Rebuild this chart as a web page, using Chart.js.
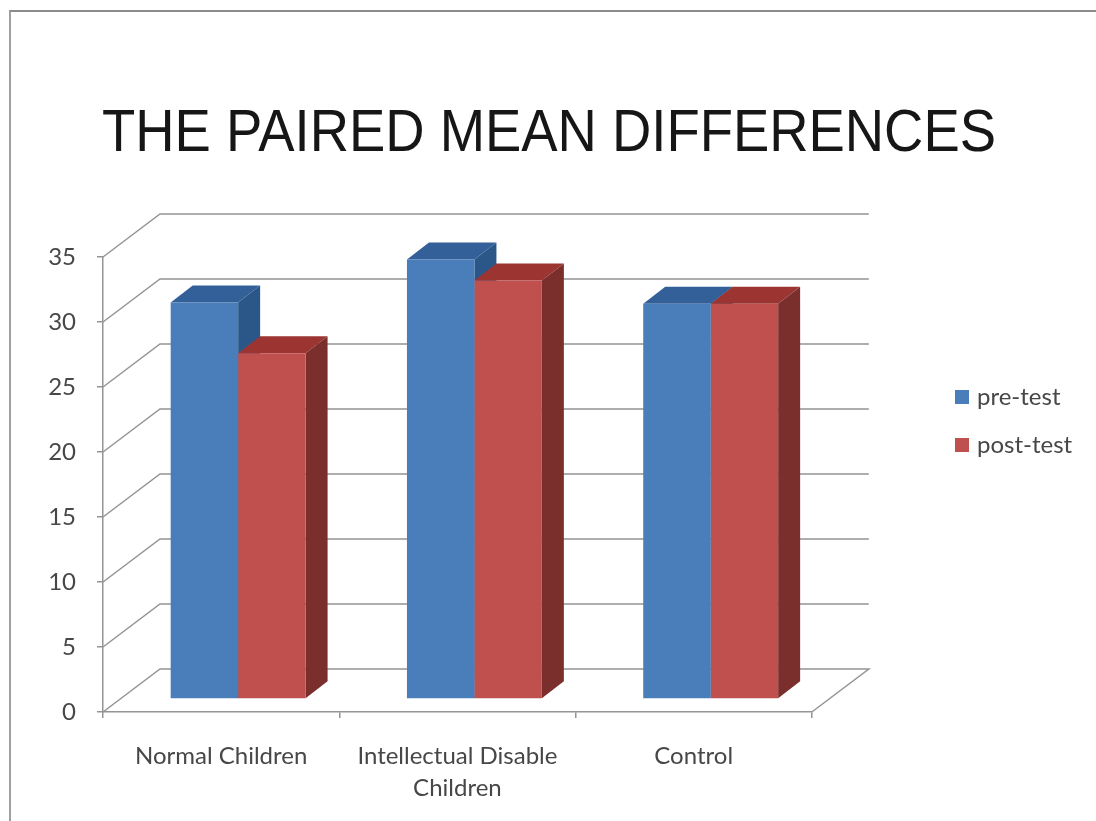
<!DOCTYPE html>
<html>
<head>
<meta charset="utf-8">
<title>The paired mean differences</title>
<script src="https://cdn.jsdelivr.net/npm/chart.js@4/dist/chart.umd.min.js"></script>
<style>
    html, body { margin: 0; padding: 0; background: #fff; overflow: hidden; }
    #wrap { position: relative; width: 1096px; height: 821px; }
    #frame { position: absolute; left: 9px; top: 10px; right: 0; bottom: 0; border-top: 2px solid #8c8c8c; border-left: 2px solid #a0a0a0; }
    canvas { position: absolute; left: 0; top: 0; }
</style>
</head>
<body>
<div id="wrap">
    <div id="frame"></div>
    <canvas id="chart" width="1096" height="821"></canvas>
</div>
<script>
const chartTitle = 'THE PAIRED MEAN DIFFERENCES';
const categories = ['Normal Children', ['Intellectual Disable', 'Children'], 'Control'];
const preTest = [30.5, 33.8, 30.4];
const postTest = [26.6, 32.2, 30.4];

// --- 3D look ---
const wall = { dx: 57, dy: 43 };      // how far the back wall sits behind the axes
const barShift = { dx: 17, dy: 13 };  // bars stand in the middle of the floor
const barDepth = { dx: 22, dy: 17 };
const gridColor = '#949494';
const textColor = '#474747';
const faces = [
    { front: '#4a7ebb', top: '#34609a', side: '#2a5788' },
    { front: '#c0504d', top: '#9c3532', side: '#7b2f2d' }
];

function poly(ctx, pts, fill) {
    ctx.beginPath();
    pts.forEach((p, i) => i ? ctx.lineTo(p[0], p[1]) : ctx.moveTo(p[0], p[1]));
    ctx.closePath();
    ctx.fillStyle = fill;
    ctx.fill();
}

const walls3d = {
    id: 'walls3d',
    // pins title and legend where they belong, the padding only reserves room
    afterLayout(chart) {
        // fillText squeezes the title to this width
        chart.titleBlock.left = 102;
        chart.titleBlock.right = 996;
        const lg = chart.legend;
        const w = lg.right - lg.left;
        lg.left = 935;
        lg.right = 935 + w;
        lg.top = 361;
        lg.bottom = 500;
    },
    beforeDatasetsDraw(chart) {
        const { ctx, chartArea: a, scales: { y } } = chart;
        ctx.save();
        ctx.strokeStyle = gridColor;
        ctx.lineWidth = 1.5;
        y.ticks.forEach(t => {
            const py = y.getPixelForValue(t.value);
            ctx.beginPath();
            ctx.moveTo(a.left, py);
            ctx.lineTo(a.left + wall.dx, py - wall.dy);
            ctx.lineTo(a.right + wall.dx, py - wall.dy);
            if (t.value === 0) ctx.lineTo(a.right, py);
            ctx.stroke();
        });

        // tops and sides go down first, pre-test then post-test, the fronts cover them afterwards
        ctx.translate(barShift.dx, -barShift.dy);
        faces.forEach((c, i) => {
            chart.getDatasetMeta(i).data.forEach(bar => {
                const l = bar.x - bar.width / 2;
                const r = bar.x + bar.width / 2;
                const d = barDepth;
                poly(ctx, [[l, bar.y], [l + d.dx, bar.y - d.dy], [r + d.dx, bar.y - d.dy], [r, bar.y]], c.top);
                poly(ctx, [[r, bar.y], [r + d.dx, bar.y - d.dy], [r + d.dx, bar.base - d.dy], [r, bar.base]], c.side);
            });
        });
        ctx.restore();
    },
    beforeDatasetDraw(chart) {
        chart.ctx.save();
        chart.ctx.translate(barShift.dx, -barShift.dy);
    },
    afterDatasetDraw(chart) {
        chart.ctx.restore();
    }
};

new Chart(document.getElementById('chart'), {
    type: 'bar',
    data: {
        labels: categories,
        datasets: [
            { label: 'pre-test', data: preTest, backgroundColor: faces[0].front, clip: false },
            { label: 'post-test', data: postTest, backgroundColor: faces[1].front, clip: false }
        ]
    },
    options: {
        responsive: false,
        animation: false,
        categoryPercentage: 0.571,
        barPercentage: 1,
        layout: { padding: { right: 137 } },
        plugins: {
            tooltip: { enabled: false },
            title: {
                display: true,
                text: chartTitle,
                color: '#161616',
                font: { family: '"Liberation Sans"', size: 60, weight: 'normal', lineHeight: 1.2 },
                padding: { top: 98, bottom: 87 }
            },
            legend: {
                position: 'right',
                align: 'start',
                labels: {
                    color: textColor,
                    font: { family: 'Lato', size: 24 },
                    usePointStyle: true,
                    pointStyle: 'rect',
                    boxWidth: 6,
                    boxHeight: 14,
                    padding: 24
                }
            }
        },
        scales: {
            x: {
                afterFit(s) { s.height = 109; },
                grid: { drawOnChartArea: false, color: gridColor, tickLength: 6, lineWidth: 1.5 },
                border: { color: gridColor, width: 1.5 },
                ticks: {
                    color: textColor,
                    font: { family: 'Lato', size: 24, lineHeight: 1.33 },
                    padding: 22,
                    maxRotation: 0,
                    autoSkip: false
                }
            },
            y: {
                min: 0,
                max: 35,
                afterFit(s) { s.width = 103; },
                grid: { drawOnChartArea: false, color: gridColor, tickLength: 6, lineWidth: 1.5 },
                border: { color: gridColor, width: 1.5 },
                ticks: {
                    stepSize: 5,
                    color: textColor,
                    font: { family: 'Lato', size: 24 },
                    padding: 21
                }
            }
        }
    },
    plugins: [walls3d]
});
</script>
</body>
</html>
